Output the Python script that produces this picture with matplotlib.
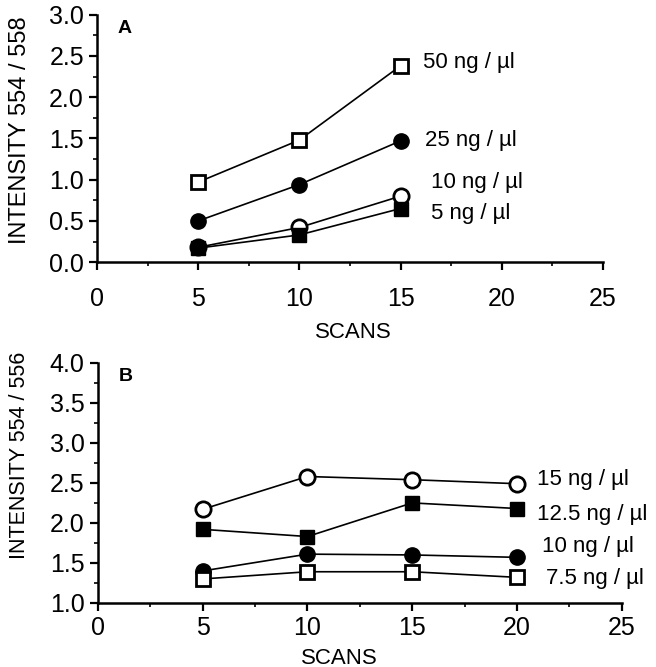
import matplotlib
matplotlib.use("Agg")
from matplotlib import pyplot as plt
from matplotlib.ticker import MultipleLocator

plt.rcParams['font.family'] = ['Liberation Sans', 'DejaVu Sans']

#####* panel A data
scans_a = [5, 10, 15]
a_50 = [0.97, 1.48, 2.38]
a_25 = [0.50, 0.94, 1.47]
a_10 = [0.18, 0.42, 0.80]
a_5 = [0.17, 0.33, 0.65]
labels_a = ["50 ng / µl", "25 ng / µl", "10 ng / µl", "5 ng / µl"]

#####* panel B data
scans_b = [5, 10, 15, 20]
b_15 = [2.17, 2.58, 2.54, 2.49]
b_125 = [1.92, 1.83, 2.25, 2.18]
b_10 = [1.40, 1.61, 1.60, 1.57]
b_75 = [1.30, 1.39, 1.39, 1.32]
labels_b = ["15 ng / µl", "12.5 ng / µl", "10 ng / µl", "7.5 ng / µl"]

open_sq = dict(marker='s', mfc='white', mec='black', mew=2.0, ms=10)
filled_ci = dict(marker='o', mfc='black', mec='black', ms=11)
open_ci = dict(marker='o', mfc='white', mec='black', mew=2.0, ms=11)
filled_sq = dict(marker='s', mfc='black', mec='black', ms=10)

W, H = 656, 667


def style_axes(ax, ymin, ymax, letter, xpad):
    ax.spines['top'].set_visible(False)
    ax.spines['right'].set_visible(False)
    ax.spines['left'].set_linewidth(1.8)
    ax.spines['bottom'].set_linewidth(1.8)
    ax.set_xlim(0, 25)
    ax.set_ylim(ymin, ymax)
    ax.xaxis.set_major_locator(MultipleLocator(5))
    ax.xaxis.set_minor_locator(MultipleLocator(2.5))
    ax.yaxis.set_major_locator(MultipleLocator(0.5))
    ax.yaxis.set_minor_locator(MultipleLocator(0.25))
    ax.tick_params(which='major', length=6, width=1.6, labelsize=18)
    ax.tick_params(axis='x', which='major', pad=xpad)
    ax.tick_params(which='minor', length=3, width=1.2)
    ax.text(1.0, ymax - 0.02 * (ymax - ymin), letter, fontsize=14,
            fontweight='bold', va='top', ha='left')


fig = plt.figure(figsize=(W / 100, H / 100), dpi=100)

#####* panel A
ax1 = fig.add_axes([0.148, 0.607, 0.771, 0.371])
for y, st in zip([a_50, a_25, a_10, a_5], [open_sq, filled_ci, open_ci, filled_sq]):
    ax1.plot(scans_a, y, color='black', lw=1.2, clip_on=False, **st)
label_pos_a = [(16.1, 2.42), (16.2, 1.48), (16.5, 0.97), (16.5, 0.59)]
for (x, y), lab in zip(label_pos_a, labels_a):
    ax1.text(x, y, lab, fontsize=16, va='center', ha='left')
style_axes(ax1, 0.0, 3.0, "A", 12)
fig.text(20 / W, 1 - 130 / H, "INTENSITY 554 / 558", fontsize=17,
         rotation=90, ha='center', va='center')
fig.text(353 / W, 1 - 332 / H, "SCANS", fontsize=16, ha='center', va='center')

#####* panel B
ax2 = fig.add_axes([0.149, 0.096, 0.799, 0.360])
for y, st in zip([b_15, b_125, b_10, b_75], [open_ci, filled_sq, filled_ci, open_sq]):
    ax2.plot(scans_b, y, color='black', lw=1.2, clip_on=False, **st)
label_pos_b = [(20.95, 2.54), (20.95, 2.10), (21.2, 1.70), (21.4, 1.31)]
for (x, y), lab in zip(label_pos_b, labels_b):
    ax2.text(x, y, lab, fontsize=16, va='center', ha='left')
style_axes(ax2, 1.0, 4.0, "B", 3.5)
fig.text(20 / W, 1 - 455 / H, "INTENSITY 554 / 556", fontsize=15.5,
         rotation=90, ha='center', va='center')
fig.text(339 / W, 1 - 658 / H, "SCANS", fontsize=16, ha='center', va='center')

fig.savefig("out.png", dpi=100)
